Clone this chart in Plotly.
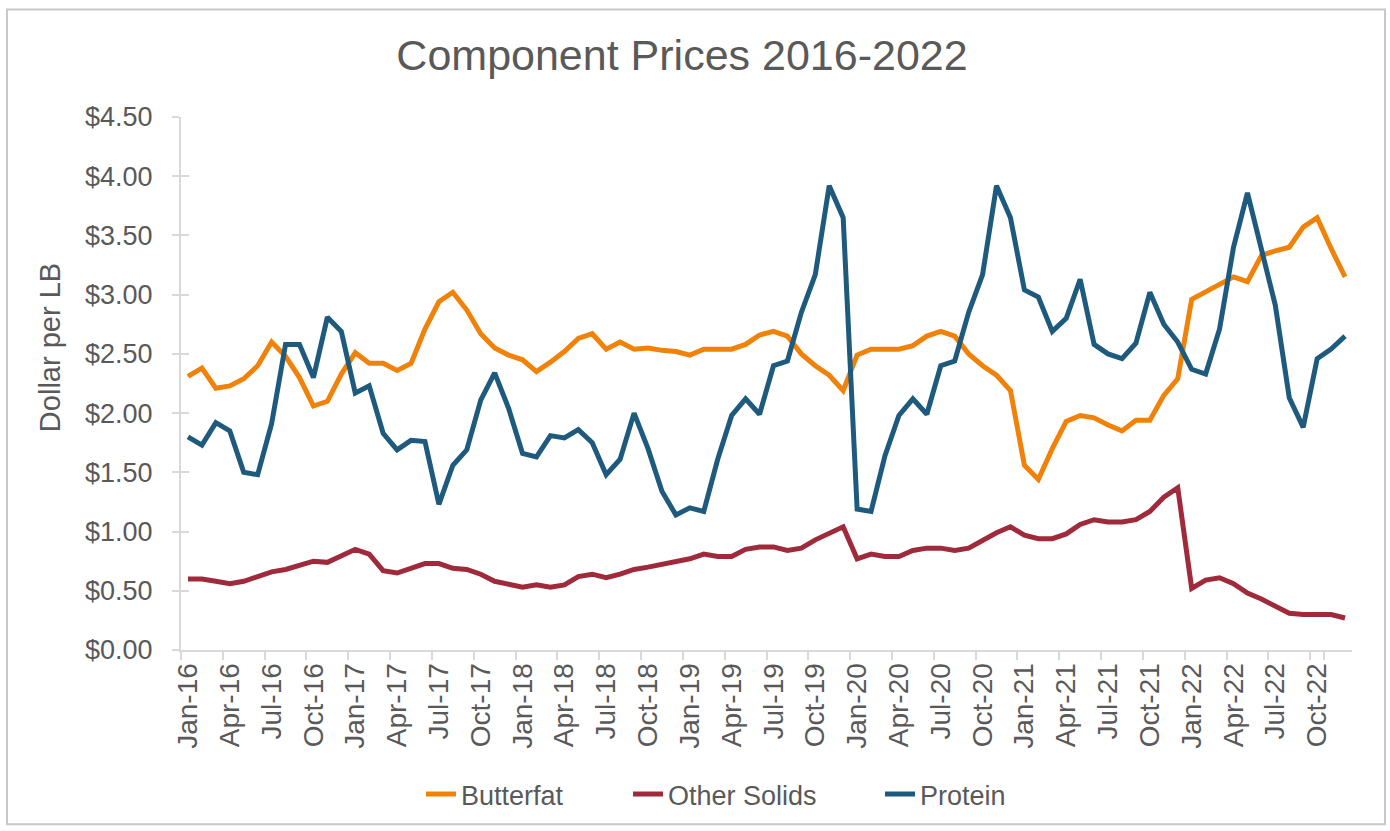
import plotly.graph_objects as go

MONTH_ABBR = ["Jan", "Feb", "Mar", "Apr", "May", "Jun", "Jul", "Aug", "Sep", "Oct", "Nov", "Dec"]
YEARS = ["16", "17", "18", "19", "20", "21", "22"]
months = [f"{m}-{y}" for y in YEARS for m in MONTH_ABBR]

tick_labels = ["Jan-16", "Apr-16", "Jul-16", "Oct-16", "Jan-17", "Apr-17", "Jul-17", "Oct-17",
               "Jan-18", "Apr-18", "Jul-18", "Oct-18", "Jan-19", "Apr-19", "Jul-19", "Oct-19",
               "Jan-20", "Apr-20", "Jul-20", "Oct-20", "Jan-21", "Apr-21", "Jul-21", "Oct-21",
               "Jan-22", "Apr-22", "Jul-22", "Oct-22"]

butterfat = [2.31, 2.38, 2.21, 2.23, 2.29, 2.40, 2.60, 2.48, 2.30, 2.06, 2.10, 2.33,
             2.51, 2.42, 2.42, 2.36, 2.42, 2.71, 2.94, 3.02, 2.87, 2.67, 2.55, 2.49,
             2.45, 2.35, 2.43, 2.52, 2.63, 2.67, 2.54, 2.60, 2.54, 2.55, 2.53, 2.52,
             2.49, 2.54, 2.54, 2.54, 2.58, 2.66, 2.69, 2.65, 2.50, 2.40, 2.32, 2.19,
             2.49, 2.54, 2.54, 2.54, 2.57, 2.65, 2.69, 2.65, 2.50, 2.40, 2.32, 2.19,
             1.56, 1.44, 1.70, 1.93, 1.98, 1.96, 1.90, 1.85, 1.94, 1.94, 2.15, 2.29,
             2.96, 3.02, 3.09, 3.15, 3.11, 3.33, 3.37, 3.40, 3.57, 3.65, 3.39, 3.15]

other_solids = [0.60, 0.60, 0.58, 0.56, 0.58, 0.62, 0.66, 0.68, 0.71, 0.75, 0.74, 0.79,
                0.85, 0.81, 0.67, 0.65, 0.69, 0.73, 0.73, 0.69, 0.68, 0.64, 0.58, 0.55,
                0.53, 0.55, 0.53, 0.55, 0.62, 0.64, 0.61, 0.64, 0.68, 0.70, 0.72, 0.74,
                0.77, 0.81, 0.79, 0.79, 0.85, 0.87, 0.87, 0.84, 0.86, 0.93, 0.99, 1.04,
                0.77, 0.81, 0.79, 0.79, 0.84, 0.86, 0.86, 0.84, 0.86, 0.93, 0.99, 1.04,
                0.97, 0.94, 0.94, 0.98, 1.06, 1.10, 1.08, 1.08, 1.10, 1.17, 1.29, 1.37,
                0.52, 0.59, 0.61, 0.56, 0.48, 0.43, 0.37, 0.31, 0.30, 0.30, 0.30, 0.27]

protein = [1.80, 1.73, 1.92, 1.85, 1.50, 1.48, 1.91, 2.58, 2.58, 2.30, 2.81, 2.69,
           2.17, 2.23, 1.83, 1.69, 1.77, 1.76, 1.23, 1.56, 1.69, 2.11, 2.34, 2.04,
           1.66, 1.63, 1.81, 1.79, 1.86, 1.75, 1.48, 1.61, 2.00, 1.70, 1.34, 1.14,
           1.20, 1.17, 1.61, 1.98, 2.12, 1.99, 2.40, 2.44, 2.85, 3.17, 3.92, 3.65,
           1.19, 1.17, 1.64, 1.98, 2.12, 1.99, 2.40, 2.44, 2.85, 3.17, 3.92, 3.65,
           3.04, 2.98, 2.69, 2.80, 3.13, 2.58, 2.50, 2.46, 2.59, 3.02, 2.75, 2.60,
           2.37, 2.33, 2.71, 3.40, 3.86, 3.39, 2.91, 2.13, 1.88, 2.46, 2.54, 2.65]

y_ticks = [0, 0.5, 1.0, 1.5, 2.0, 2.5, 3.0, 3.5, 4.0, 4.5]
y_tick_text = ["$0.00", "$0.50", "$1.00", "$1.50", "$2.00", "$2.50", "$3.00", "$3.50", "$4.00", "$4.50"]

FONT = "Liberation Sans, Arial, sans-serif"
TXT = "#595959"
AX = "#D9D9D9"

L, R, T, B = 181, 38, 117, 179
W, H = 1390, 831
pw, ph = W - L - R, H - T - B

def px_x(p):
    return (p - L) / pw

def px_y(p):
    return (H - B - p) / ph

series = [("Butterfat", butterfat, "#F0820A", "legend", 421),
          ("Other Solids", other_solids, "#9F2A3B", "legend2", 628),
          ("Protein", protein, "#1E5A7D", "legend3", 880)]

fig = go.Figure()
for name, vals, col, leg, _ in series:
    fig.add_trace(go.Scatter(x=months, y=vals, name=name, mode="lines",
                             line=dict(color=col, width=5), legend=leg))

# dummy trace for overlay axis (inside y ticks)
fig.add_trace(go.Scatter(x=[None], y=[None], xaxis="x2", yaxis="y2",
                         showlegend=False, hoverinfo="skip"))

legend_layout = {}
for name, vals, col, leg, lx in series:
    legend_layout[leg] = dict(orientation="h", x=px_x(lx), xanchor="left",
                              y=px_y(797), yanchor="middle",
                              font=dict(size=27, color=TXT, family=FONT),
                              bgcolor="rgba(0,0,0,0)", itemwidth=30)

fig.update_layout(
    width=W, height=H,
    margin=dict(l=L, r=R, t=T, b=B),
    paper_bgcolor="white", plot_bgcolor="white",
    font=dict(family=FONT, color=TXT, size=26),
    title=dict(text="Component Prices 2016-2022", font=dict(size=43, color=TXT, family=FONT),
               x=px_x(682), xref="paper", xanchor="center",
               y=1 - 55 / H, yref="container", yanchor="middle"),
    xaxis=dict(type="category", categoryorder="array", categoryarray=months,
               range=[-0.5, len(months) - 0.5],
               tickmode="array", tickvals=tick_labels, ticktext=tick_labels,
               tickson="boundaries", ticks="outside", ticklen=8, tickwidth=1.5, tickcolor=AX,
               tickangle=-90, tickfont=dict(size=28, color=TXT),
               showline=True, linecolor=AX, linewidth=2, showgrid=False, zeroline=False),
    yaxis=dict(range=[0, 4.5], tickmode="array", tickvals=y_ticks, ticktext=y_tick_text,
               ticks="outside", ticklen=7, tickwidth=1.5, tickcolor=AX,
               ticklabelstandoff=14, tickfont=dict(size=27, color=TXT),
               showline=True, linecolor=AX, linewidth=2, showgrid=False, zeroline=False),
    xaxis2=dict(overlaying="x", anchor="y2", side="bottom", range=[-0.5, len(months) - 0.5],
                showticklabels=False, ticks="", showline=False, showgrid=False, zeroline=False),
    yaxis2=dict(overlaying="y", anchor="x2", side="left", range=[0, 4.5],
                tickmode="array", tickvals=y_ticks, ticks="inside", ticklen=8, tickwidth=1.5,
                tickcolor=AX, showticklabels=False, showline=False, showgrid=False, zeroline=False),
    annotations=[dict(text="Dollar per LB", textangle=-90, x=px_x(50), y=px_y(349),
                      xanchor="center", yanchor="middle",
                      xref="paper", yref="paper", showarrow=False,
                      font=dict(size=29, color=TXT, family=FONT))],
    shapes=[dict(type="rect", xref="paper", yref="paper",
                 x0=px_x(7), x1=px_x(1385), y0=px_y(827), y1=px_y(9),
                 line=dict(color="#C8C8C8", width=2), fillcolor="rgba(0,0,0,0)", layer="below")],
    **legend_layout,
)

fig.write_html("out.html", config={"displayModeBar": False},
               post_script="document.body.style.margin='0';document.body.style.padding='0';")
